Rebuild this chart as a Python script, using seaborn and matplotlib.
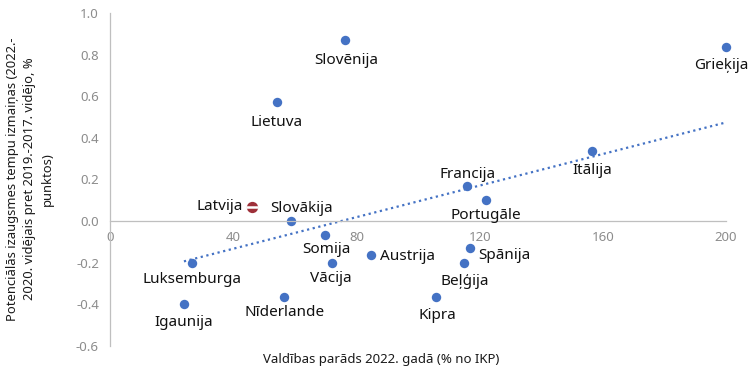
import matplotlib
matplotlib.use("Agg")
import matplotlib.pyplot as plt
import seaborn as sns
import pandas as pd

# values
countries = ['Slovēnija', 'Grieķija', 'Lietuva', 'Latvija', 'Slovākija', 'Somija', 'Vācija', 'Austrija',
             'Luksemburga', 'Igaunija', 'Nīderlande', 'Kipra', 'Beļģija', 'Spānija', 'Portugāle', 'Francija', 'Itālija']
debt = [76.3, 200, 54.2, 46, 58.8, 69.8, 72, 84.7, 26.6, 24, 56.5, 106, 115, 117, 122, 116, 156.5]
potential = [0.87, 0.835, 0.57, 0.07, 0.0, -0.067, -0.2, -0.163, -0.2, -0.4, -0.365, -0.365, -0.2, -0.13, 0.1, 0.17, 0.335]
x_ticks = [0, 40, 80, 120, 160, 200]
y_ticks = [-0.6, -0.4, -0.2, 0.0, 0.2, 0.4, 0.6, 0.8, 1.0]

# label placement, in pixels from the point
offsets = {'Slovēnija': (1, -20), 'Grieķija': (-5, -18), 'Lietuva': (0, -20), 'Latvija': (-32, 0),
           'Slovākija': (10, 13), 'Somija': (1, -14), 'Vācija': (-1, -16), 'Austrija': (37, -1),
           'Luksemburga': (0, -17), 'Igaunija': (0, -18), 'Nīderlande': (1, -15), 'Kipra': (1, -18),
           'Beļģija': (1, -19), 'Spānija': (34, -7), 'Portugāle': (0, -15), 'Francija': (0, 11), 'Itālija': (0, -19)}

BLUE = '#4472C4'
GREY = '#BFBFBF'
df = pd.DataFrame({'country': countries, 'debt': debt, 'potential': potential})

sns.set_style('white')
plt.rcParams['font.family'] = ['Noto Sans', 'DejaVu Sans']

fig = plt.figure(figsize=(7.5, 3.72), dpi=100)
ax = fig.add_axes([110 / 750, 1 - 346 / 372, 616 / 750, 333 / 372])

sns.regplot(data=df, x='debt', y='potential', ax=ax, ci=None, color=BLUE,
            scatter_kws={'s': 46, 'alpha': 1, 'linewidths': 0, 'clip_on': False},
            line_kws={'linestyle': (0, (1, 1.6)), 'linewidth': 1.6})

# Latvia is marked with a flag instead of the plain dot
lv = df[df['country'] == 'Latvija']
ax.scatter(lv['debt'], lv['potential'], s=66, color='#9E3039', zorder=4, linewidths=0)
ax.scatter(lv['debt'], lv['potential'], s=66, marker='_', color='white', zorder=5, linewidths=1.8)

for _, row in df.iterrows():
    ax.annotate(row['country'], (row['debt'], row['potential']), xytext=offsets[row['country']],
                textcoords='offset pixels', ha='center', va='center', fontsize=11, color='#111111', zorder=6)

ax.set_xlim(0, 200)
ax.set_ylim(-0.6, 1.0)
ax.set_xticks(x_ticks)
ax.set_yticks(y_ticks)
ax.set_yticklabels([f'{v:.1f}' for v in y_ticks])
ax.tick_params(axis='both', length=0, labelsize=9.5, labelcolor='#8c8c8c')
ax.tick_params(axis='x', pad=7)
ax.tick_params(axis='y', pad=8)

for s in ['top', 'right']:
    ax.spines[s].set_visible(False)
ax.spines['left'].set_position(('data', 0))
ax.spines['bottom'].set_position(('data', 0))
ax.spines['left'].set_color(GREY)
ax.spines['bottom'].set_color(GREY)
ax.spines['left'].set_linewidth(0.9)
ax.spines['bottom'].set_linewidth(0.9)

ax.set_xlabel('')
ax.set_ylabel('')
fig.text(381 / 750, 1 - 359 / 372, 'Valdības parāds 2022. gadā (% no IKP)', ha='center', va='center',
         fontsize=9.5, color='#1a1a1a')
fig.text(30 / 750, 1 - 179 / 372, 'Potenciālās izaugsmes tempu izmaiņas (2022.-\n2020. vidējais pret 2019.-2017. vidējo, %\npunktos)',
         ha='center', va='center', rotation=90, fontsize=9.35, color='#1a1a1a', linespacing=1.4, multialignment='center')

plt.savefig('out.png', dpi=100)
plt.close()
